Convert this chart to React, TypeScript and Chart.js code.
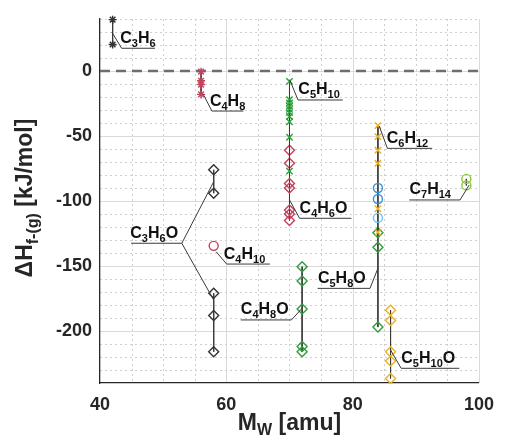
import React, { useEffect, useRef } from "react";
import { Chart, registerables } from "chart.js";

Chart.register(...registerables);

const FONT = '"Liberation Sans", Arial, Helvetica, sans-serif';

// ---- axes ----
const X_MIN = 40;
const X_MAX = 100;
const Y_MIN = -240;
const Y_MAX = 40;
const X_TICK_LABELS = [40, 60, 80, 100];
const Y_TICK_LABELS = [-200, -150, -100, -50, 0];
const X_MINOR_STEP = 5;
const Y_MINOR_STEP = 10;
const ZERO_LINE_X = [40, 100];
const ZERO_LINE_Y = [0, 0];

// ---- molar masses (amu) ----
const MW_C3H6 = 42;
const MW_C4H8 = 56;
const MW_C5H10 = 70;
const MW_C4H6O = 70;
const MW_C3H6O = 58;
const MW_C4H10 = 58;
const MW_C6H12 = 84;
const MW_C5H8O = 84;
const MW_C4H8O = 72;
const MW_C5H10O = 86;
const MW_C7H14 = 98;

// ---- enthalpies of formation (kJ/mol) ----
const C3H6 = [39.5, 20.4];
const C4H8 = [-0.5, -7.5, -10.5, -18];
const C5H10 = [-8, -22, -24.5, -27, -29.5, -32, -35, -39, -51, -77];
const C4H6O = [-61, -71, -86.5, -90, -107, -110, -115];
const C3H6O_UPPER = [-76, -94];
const C3H6O_LOWER = [-171, -188, -216];
const C4H10 = [-134.5];
const C6H12 = [-42, -50.5, -61, -71, -106, -124];
const C6H12_RING = [-90, -98.5];
const C6H12_RING_LIGHT = [-113];
const C5H8O = [-124.5, -135.5, -197];
const C4H8O = [-150.5, -161.5, -183, -212, -216];
const C5H10O = [-184, -192, -216, -223, -236.5];
const C7H14 = [-83, -88];

// ---- formula labels (text, underline and leader, in data units) ----
const LABELS = [
  { text: "C3H6", textX: 43.2, lineY: 17.5, lineX: [43.42, 48.71], anchors: [[41.87, 30]] },
  { text: "C4H8", textX: 57.4, lineY: -30.8, lineX: [57.72, 62.7], anchors: [[56.32, -17.7]] },
  { text: "C5H10", textX: 71.4, lineY: -22.3, lineX: [71.35, 78.44], anchors: [[70.05, -6.9]] },
  { text: "C6H12", textX: 85.4, lineY: -59.5, lineX: [85.5, 92.59], anchors: [[84.2, -42.3]] },
  { text: "C7H14", textX: 89.0, lineY: -99.2, lineX: [88.97, 97.0], anchors: [[98.45, -87.7]] },
  { text: "C3H6O", textX: 44.8, lineY: -132.5, lineX: [44.93, 52.95], anchors: [[58, -85.2], [58, -176.2]] },
  { text: "C4H10", textX: 59.6, lineY: -148.5, lineX: [60.05, 66.89], anchors: [[58.39, -139]] },
  { text: "C4H6O", textX: 71.6, lineY: -113.3, lineX: [71.6, 79.8], anchors: [[70, -99.2]] },
  { text: "C4H8O", textX: 62.3, lineY: -191.5, lineX: [62.28, 70.31], anchors: [[72, -182.5]] },
  { text: "C5H8O", textX: 74.5, lineY: -167.2, lineX: [74.46, 82.75], anchors: [[84, -151.8]] },
  { text: "C5H10O", textX: 87.7, lineY: -228.7, lineX: [87.68, 96.89], anchors: [[86, -214.6]] },
];

const LINE_COLOR = "#3a3a3a";
const BLACK = "#333333";
const CRIMSON = "#c4435c";
const GREEN = "#2f9e3a";
const YELLOW = "#edb120";
const BLUE = "#3a8fd3";
const LIGHT_BLUE = "#6cc3ec";
const LIGHT_GREEN = "#8cc63e";

type Part = { t: string; sub?: boolean };

function formulaParts(s: string): Part[] {
  return s
    .split(/(\d+)/)
    .filter((p) => p.length > 0)
    .map((p) => ({ t: p, sub: /^\d+$/.test(p) }));
}

function drawRich(
  ctx: CanvasRenderingContext2D,
  parts: Part[],
  x: number,
  y: number,
  size: number,
  subSize: number,
  shift: number,
  align: "left" | "center"
) {
  const mainFont = `bold ${size}px ${FONT}`;
  const subFont = `bold ${subSize}px ${FONT}`;
  let total = 0;
  const widths = parts.map((p) => {
    ctx.font = p.sub ? subFont : mainFont;
    const w = ctx.measureText(p.t).width;
    total += w;
    return w;
  });
  let cx = align === "center" ? x - total / 2 : x;
  ctx.textAlign = "left";
  ctx.textBaseline = "alphabetic";
  parts.forEach((p, i) => {
    ctx.font = p.sub ? subFont : mainFont;
    ctx.fillText(p.t, cx, p.sub ? y + shift : y);
    cx += widths[i];
  });
}

function pts(mw: number, values: number[]) {
  return values.map((v) => ({ x: mw, y: v }));
}

const gridPlugin = {
  id: "matlabGrid",
  beforeDraw(chart: any) {
    const { ctx, chartArea: a, scales } = chart;
    const xs = scales.x;
    const ys = scales.y;
    ctx.save();
    ctx.lineWidth = 1;
    for (let v = X_MIN + X_MINOR_STEP; v <= X_MAX + 1e-9; v += X_MINOR_STEP) {
      const px = Math.round(xs.getPixelForValue(v)) + 0.5;
      const major = X_TICK_LABELS.includes(v);
      ctx.strokeStyle = major ? "#dadada" : "#cfcfcf";
      ctx.setLineDash(major ? [] : [2, 3]);
      ctx.beginPath();
      ctx.moveTo(px, a.top);
      ctx.lineTo(px, a.bottom);
      ctx.stroke();
    }
    for (let v = Y_MIN + Y_MINOR_STEP; v <= Y_MAX + 1e-9; v += Y_MINOR_STEP) {
      const py = Math.round(ys.getPixelForValue(v)) + 0.5;
      const major = Y_TICK_LABELS.includes(v);
      ctx.strokeStyle = major ? "#dadada" : "#cfcfcf";
      ctx.setLineDash(major ? [] : [2, 3]);
      ctx.beginPath();
      ctx.moveTo(a.left, py);
      ctx.lineTo(a.right, py);
      ctx.stroke();
    }
    ctx.restore();
  },
};

const labelPlugin = {
  id: "formulaLabels",
  afterDatasetsDraw(chart: any) {
    const { ctx, scales } = chart;
    const xs = scales.x;
    const ys = scales.y;
    ctx.save();
    ctx.strokeStyle = LINE_COLOR;
    ctx.lineWidth = 1;
    ctx.fillStyle = "#111111";
    for (const lab of LABELS) {
      const uy = ys.getPixelForValue(lab.lineY);
      const x0 = xs.getPixelForValue(lab.lineX[0]);
      const x1 = xs.getPixelForValue(lab.lineX[1]);
      ctx.beginPath();
      ctx.moveTo(x0, uy);
      ctx.lineTo(x1, uy);
      ctx.stroke();
      for (const an of lab.anchors) {
        const ax = xs.getPixelForValue(an[0]);
        const ay = ys.getPixelForValue(an[1]);
        const kx = Math.abs(ax - x0) < Math.abs(ax - x1) ? x0 : x1;
        ctx.beginPath();
        ctx.moveTo(ax, ay);
        ctx.lineTo(kx, uy);
        ctx.stroke();
      }
      drawRich(ctx, formulaParts(lab.text), xs.getPixelForValue(lab.textX), uy - 5.5, 16, 11, 4, "left");
    }
    ctx.restore();
  },
  afterDraw(chart: any) {
    const { ctx, chartArea: a } = chart;
    ctx.save();
    ctx.fillStyle = "#262626";
    drawRich(
      ctx,
      [{ t: "M" }, { t: "W", sub: true }, { t: " [amu]" }],
      (a.left + a.right) / 2,
      a.bottom + 47,
      23,
      16,
      5,
      "center"
    );
    ctx.translate(a.left - 68, (a.top + a.bottom) / 2 - 3);
    ctx.rotate(-Math.PI / 2);
    drawRich(
      ctx,
      [{ t: "\u0394H" }, { t: "f-(g)", sub: true }, { t: " [kJ/mol]" }],
      0,
      0,
      23,
      16,
      6,
      "center"
    );
    ctx.restore();
  },
};

function series(
  data: { x: number; y: number }[],
  pointStyle: string,
  color: string,
  radius: number,
  showLine: boolean
) {
  return {
    data,
    showLine,
    borderColor: LINE_COLOR,
    borderWidth: 1,
    pointStyle,
    pointRadius: radius,
    pointBorderColor: color,
    pointBackgroundColor: "rgba(0,0,0,0)",
    pointBorderWidth: 1.4,
    clip: 8,
  };
}

export default function App() {
  const canvasRef = useRef<HTMLCanvasElement | null>(null);

  useEffect(() => {
    if (!canvasRef.current) return;
    const datasets: any[] = [
      series(pts(MW_C3H6, C3H6), "star", BLACK, 4, true),
      series(pts(MW_C4H8, C4H8), "star", CRIMSON, 4, true),
      series(pts(MW_C5H10, C5H10), "crossRot", GREEN, 4.5, true),
      series(pts(MW_C4H6O, C4H6O), "rectRot", CRIMSON, 5, true),
      series(pts(MW_C3H6O, C3H6O_UPPER), "rectRot", BLACK, 5, true),
      series(pts(MW_C3H6O, C3H6O_LOWER), "rectRot", BLACK, 5, true),
      series(pts(MW_C4H10, C4H10), "circle", CRIMSON, 4.5, false),
      series(pts(MW_C6H12, C6H12_RING), "circle", BLUE, 4.5, false),
      series(pts(MW_C6H12, C6H12_RING_LIGHT), "circle", LIGHT_BLUE, 4.5, false),
      series(pts(MW_C6H12, C6H12), "crossRot", YELLOW, 4.5, true),
      series(pts(MW_C5H8O, C5H8O), "rectRot", GREEN, 5, true),
      series(pts(MW_C4H8O, C4H8O), "rectRot", GREEN, 5, true),
      series(pts(MW_C5H10O, C5H10O), "rectRot", YELLOW, 5, true),
      series(pts(MW_C7H14, C7H14), "circle", LIGHT_GREEN, 4.5, true),
      {
        data: ZERO_LINE_X.map((x, i) => ({ x, y: ZERO_LINE_Y[i] })),
        showLine: true,
        borderColor: "#6e6e6e",
        borderWidth: 2.5,
        borderDash: [10, 6],
        pointRadius: 0,
      },
    ];

    const chart = new Chart(canvasRef.current, {
      type: "scatter",
      data: { datasets },
      plugins: [gridPlugin, labelPlugin],
      options: {
        responsive: false,
        animation: false,
        events: [],
        layout: { padding: { top: 19, right: 19, left: 0, bottom: 0 } },
        plugins: { legend: { display: false }, tooltip: { enabled: false } },
        scales: {
          x: {
            type: "linear",
            min: X_MIN,
            max: X_MAX,
            afterBuildTicks: (s: any) => {
              s.ticks = X_TICK_LABELS.map((v) => ({ value: v }));
            },
            afterFit: (s: any) => {
              s.height = 62;
            },
            grid: { display: false, drawTicks: false },
            border: { display: true, color: "#262626", width: 1.3 },
            ticks: {
              autoSkip: false,
              maxRotation: 0,
              padding: 11,
              color: "#262626",
              font: { family: FONT, size: 18, weight: "bold" },
              callback: (v: any) => String(v),
            },
          },
          y: {
            type: "linear",
            min: Y_MIN,
            max: Y_MAX,
            afterBuildTicks: (s: any) => {
              s.ticks = Y_TICK_LABELS.map((v) => ({ value: v }));
            },
            afterFit: (s: any) => {
              s.width = 100;
            },
            grid: { display: false, drawTicks: false },
            border: { display: true, color: "#262626", width: 1.3 },
            ticks: {
              autoSkip: false,
              padding: 8,
              color: "#262626",
              font: { family: FONT, size: 18, weight: "bold" },
              callback: (v: any) => String(v),
            },
          },
        },
      } as any,
    });
    return () => chart.destroy();
  }, []);

  return (
    <div style={{ position: "fixed", left: 0, top: 0, width: 505, height: 445, background: "#ffffff" }}>
      <canvas ref={canvasRef} width={505} height={445} style={{ display: "block" }} />
    </div>
  );
}
